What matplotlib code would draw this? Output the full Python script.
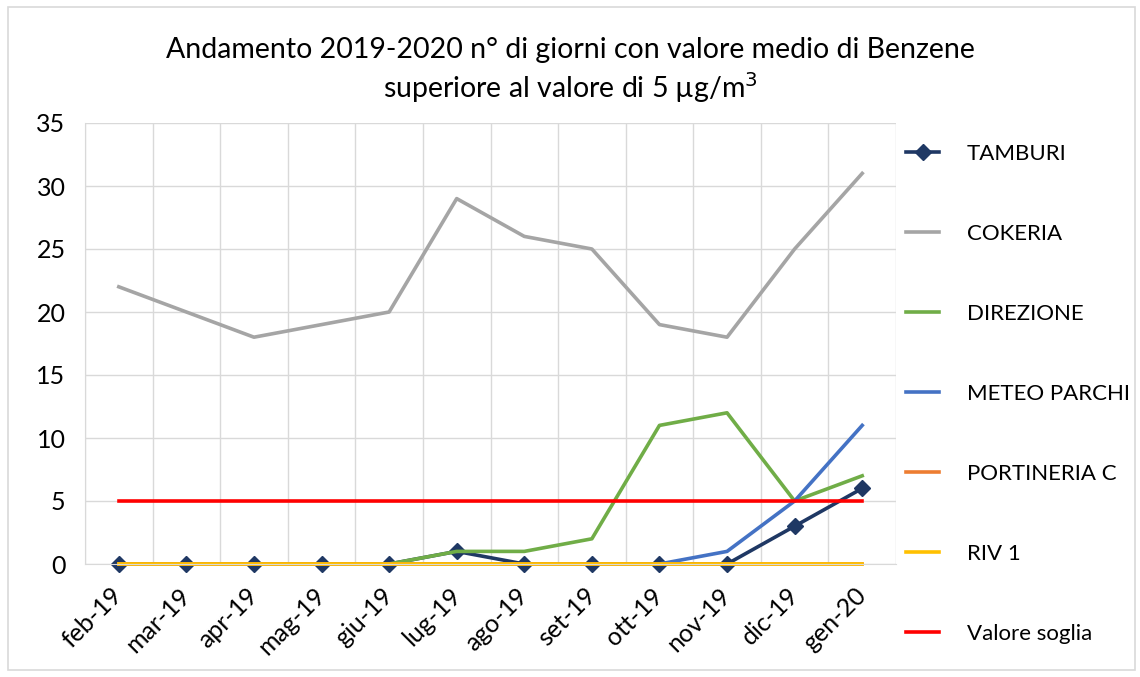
import numpy as np
import matplotlib
matplotlib.use("Agg")
import matplotlib.pyplot as plt
from matplotlib.patches import Rectangle

plt.rcParams['font.family'] = ['Lato', 'DejaVu Sans']

mesi = ["feb-19", "mar-19", "apr-19", "mag-19", "giu-19", "lug-19",
        "ago-19", "set-19", "ott-19", "nov-19", "dic-19", "gen-20"]
tamburi = [0, 0, 0, 0, 0, 1, 0, 0, 0, 0, 3, 6]
cokeria = [22, 20, 18, 19, 20, 29, 26, 25, 19, 18, 25, 31]
direzione = [0, 0, 0, 0, 0, 1, 1, 2, 11, 12, 5, 7]
meteo_parchi = [0, 0, 0, 0, 0, 0, 0, 0, 0, 1, 5, 11]
portineria_c = [0, 0, 0, 0, 0, 0, 0, 0, 0, 0, 0, 0]
riv1 = [0, 0, 0, 0, 0, 0, 0, 0, 0, 0, 0, 0]
soglia = [5] * 12

fig = plt.figure(figsize=(11.4, 6.77), dpi=100)
ax = fig.add_axes([85 / 1140, 1 - 564 / 677, (896 - 85) / 1140, (564 - 123) / 677])

x = np.arange(len(mesi))
lw = 2.6
ax.plot(x, tamburi, color="#1F3864", lw=lw, marker="D", markersize=8, label="TAMBURI", clip_on=False)
ax.plot(x, cokeria, color="#A5A5A5", lw=lw, label="COKERIA", clip_on=False)
ax.plot(x, direzione, color="#70AD47", lw=lw, label="DIREZIONE", clip_on=False)
ax.plot(x, meteo_parchi, color="#4472C4", lw=lw, label="METEO PARCHI", clip_on=False)
ax.plot(x, portineria_c, color="#ED7D31", lw=lw, label="PORTINERIA C", clip_on=False)
ax.plot(x, riv1, color="#FFC000", lw=lw, label="RIV 1", clip_on=False)
ax.plot(x, soglia, color="#FF0000", lw=lw, label="Valore soglia", clip_on=False)

ax.set_xlim(-0.5, len(mesi) - 0.5)
ax.set_ylim(0, 35)
ax.set_yticks(range(0, 36, 5))
ax.set_xticks(x)
ax.set_xticklabels(mesi, rotation=45, ha="right", va="center",
                   rotation_mode="anchor", fontsize=18)
ax.set_xticks(np.arange(-0.5, len(mesi), 1), minor=True)
ax.tick_params(axis="y", labelsize=18, length=0, pad=14)
ax.tick_params(axis="x", which="both", length=0, pad=20)
ax.grid(True, axis="y", color="#D9D9D9", lw=1)
ax.grid(True, axis="x", which="minor", color="#D9D9D9", lw=1)
ax.set_axisbelow(True)
for s in ["top", "right"]:
    ax.spines[s].set_visible(False)
ax.spines["left"].set_color("#D9D9D9")
ax.spines["bottom"].set_color("#D9D9D9")

leg = fig.legend(loc="upper left", bbox_to_anchor=(886 / 1140, 1 - 124 / 677),
                 frameon=False, fontsize=16, labelspacing=2.7,
                 handlelength=1.5, handletextpad=1.25)

fig.text(0.5, 1 - 50 / 677, "Andamento 2019-2020 n° di giorni con valore medio di Benzene",
         ha="center", va="center", fontsize=20.5)
fig.text(0.5, 1 - 88 / 677, "superiore al valore di 5 µg/m$^3$",
         ha="center", va="center", fontsize=20.5)

fig.patches.append(Rectangle((8 / 1140, 7 / 677), (1135 - 8) / 1140, (670 - 7) / 677,
                             transform=fig.transFigure, fill=False,
                             edgecolor="#D9D9D9", lw=1.2))

fig.savefig("out.png", dpi=100)
